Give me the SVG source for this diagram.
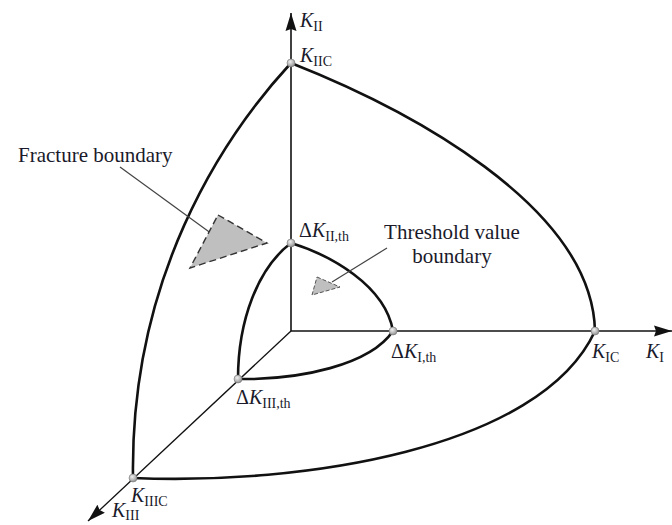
<svg xmlns="http://www.w3.org/2000/svg" width="672" height="525" viewBox="0 0 672 525">
<style>
  .axis { stroke: #111; stroke-width: 1.6; fill: none; }
  .axis3 { stroke: #111; stroke-width: 1.3; fill: none; }
  .curve { stroke: #111; stroke-width: 2.6; fill: none; stroke-linecap: round; }
  .lead { stroke: #444; stroke-width: 1.2; fill: none; }
  .tri { fill: #bfbfbf; stroke: #333; stroke-width: 1.4; stroke-dasharray: 7 4; }
  .tri2 { fill: #bfbfbf; stroke: #555; stroke-width: 1; stroke-dasharray: 4 2; }
  .dot { fill: url(#dotg); stroke: #777; stroke-width: 0.6; }
  text { font-family: "Liberation Serif", "DejaVu Serif", serif; fill: #1a1a2a; }
  .lbl { font-size: 21px; }
  .k { font-size: 20px; }
  .k tspan.i { font-style: italic; }
  .k tspan.s { font-size: 14px; }
</style>
<defs>
  <radialGradient id="dotg" cx="0.4" cy="0.35" r="0.7">
    <stop offset="0" stop-color="#f2f2f2"/>
    <stop offset="1" stop-color="#8a8a8a"/>
  </radialGradient>
  <marker id="arr" markerUnits="userSpaceOnUse" markerWidth="20" markerHeight="12" refX="18" refY="6" orient="auto">
    <path d="M0,0.5 L18,6 L0,11.5 L2,6 z" fill="#111"/>
  </marker>
</defs>

<g id="connectors">
  <line id="axis-KI" class="axis" x1="291" y1="331" x2="672" y2="331" marker-end="url(#arr)"/>
  <line id="axis-KII" class="axis" x1="291" y1="331" x2="291" y2="13" marker-end="url(#arr)"/>
  <line id="axis-KIII" class="axis3" x1="291" y1="331" x2="88" y2="521" marker-end="url(#arr)"/>

  <path id="frac-I-II" class="curve" d="M291,63 C405,108 592,205 595,331"/>
  <path id="frac-II-III" class="curve" d="M291,63 C220,140 130,280 133,478"/>
  <path id="frac-III-I" class="curve" d="M133,478 C300,485 540,450 595,331"/>

  <path id="th-I-II" class="curve" d="M291,243 C330,255 385,285 393,331"/>
  <path id="th-II-III" class="curve" d="M291,243 C258,268 238,320 238,379"/>
  <path id="th-III-I" class="curve" d="M238,379 C300,380 370,365 393,331"/>

  <line id="lead-frac" class="lead" x1="120" y1="167" x2="223" y2="242"/>
  <line id="lead-th" class="lead" x1="387" y1="248" x2="332" y2="282"/>
</g>

<g id="fracture-boundary">
  <polygon class="tri" points="218,215 267,243 190,268"/>
  <text class="lbl" x="18" y="162">Fracture boundary</text>
</g>

<g id="threshold-boundary">
  <polygon class="tri2" points="317,277 340,287 312,295"/>
  <text class="lbl" text-anchor="middle" x="452" y="239">Threshold value</text>
  <text class="lbl" text-anchor="middle" x="452" y="263">boundary</text>
</g>

<g id="node-KII">
  <text class="k" x="300" y="27"><tspan class="i">K</tspan><tspan class="s" dy="4">II</tspan></text>
</g>
<g id="node-KIIC">
  <circle class="dot" cx="291" cy="63" r="4"/>
  <text class="k" x="300" y="62"><tspan class="i">K</tspan><tspan class="s" dy="4">IIC</tspan></text>
</g>
<g id="node-dKIIth">
  <circle class="dot" cx="291" cy="243" r="4"/>
  <text class="k" x="299" y="237">Δ<tspan class="i">K</tspan><tspan class="s" dy="4">II,th</tspan></text>
</g>
<g id="node-dKIth">
  <circle class="dot" cx="393" cy="331" r="4"/>
  <text class="k" x="391" y="358">Δ<tspan class="i">K</tspan><tspan class="s" dy="4">I,th</tspan></text>
</g>
<g id="node-KIC">
  <circle class="dot" cx="595" cy="331" r="4"/>
  <text class="k" x="592" y="358"><tspan class="i">K</tspan><tspan class="s" dy="4">IC</tspan></text>
</g>
<g id="node-KI">
  <text class="k" x="646" y="358"><tspan class="i">K</tspan><tspan class="s" dy="4">I</tspan></text>
</g>
<g id="node-dKIIIth">
  <circle class="dot" cx="238" cy="379" r="4"/>
  <text class="k" x="236" y="404">Δ<tspan class="i">K</tspan><tspan class="s" dy="4">III,th</tspan></text>
</g>
<g id="node-KIIIC">
  <circle class="dot" cx="133" cy="478" r="4"/>
  <text class="k" x="131" y="502"><tspan class="i">K</tspan><tspan class="s" dy="4">IIIC</tspan></text>
</g>
<g id="node-KIII">
  <text class="k" x="112" y="517"><tspan class="i">K</tspan><tspan class="s" dy="3">III</tspan></text>
</g>
</svg>
